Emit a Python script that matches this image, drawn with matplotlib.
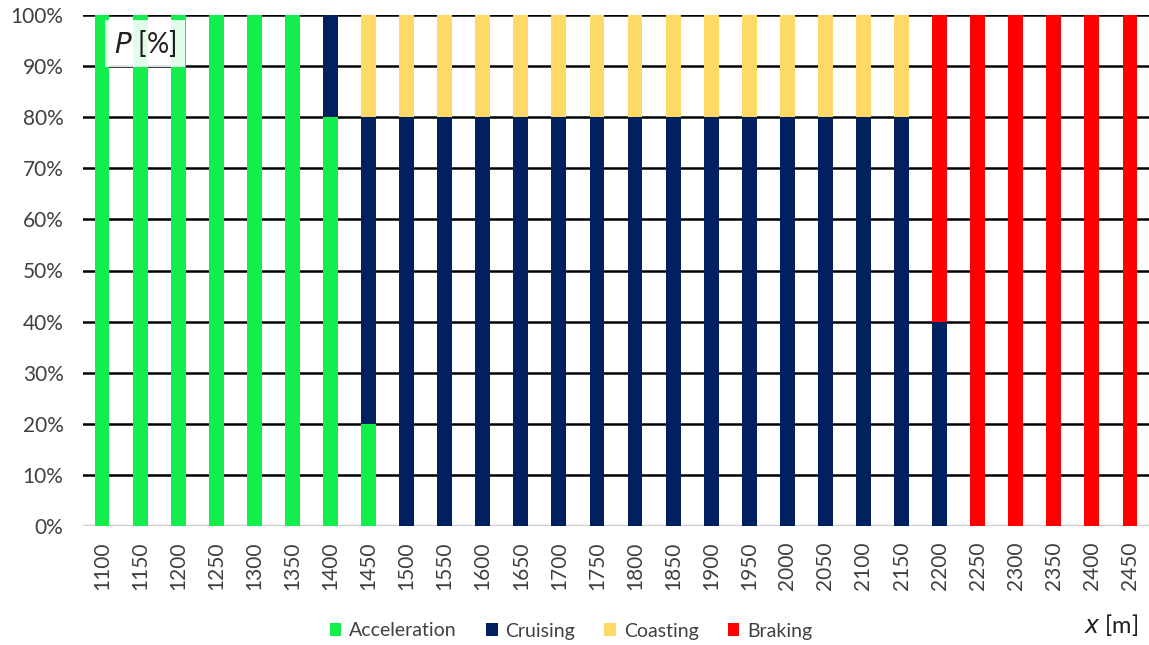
import numpy as np
import matplotlib.pyplot as plt

plt.rcParams["font.family"] = ["Lato", "DejaVu Sans"]

positions = [1100, 1150, 1200, 1250, 1300, 1350, 1400, 1450, 1500, 1550, 1600, 1650, 1700, 1750,
             1800, 1850, 1900, 1950, 2000, 2050, 2100, 2150, 2200, 2250, 2300, 2350, 2400, 2450]
acceleration = [100, 100, 100, 100, 100, 100, 80, 20, 0, 0, 0, 0, 0, 0,
                0, 0, 0, 0, 0, 0, 0, 0, 0, 0, 0, 0, 0, 0]
cruising = [0, 0, 0, 0, 0, 0, 20, 60, 80, 80, 80, 80, 80, 80,
            80, 80, 80, 80, 80, 80, 80, 80, 40, 0, 0, 0, 0, 0]
coasting = [0, 0, 0, 0, 0, 0, 0, 20, 20, 20, 20, 20, 20, 20,
            20, 20, 20, 20, 20, 20, 20, 20, 0, 0, 0, 0, 0, 0]
braking = [0, 0, 0, 0, 0, 0, 0, 0, 0, 0, 0, 0, 0, 0,
           0, 0, 0, 0, 0, 0, 0, 0, 60, 100, 100, 100, 100, 100]

series = [
    ("Acceleration", acceleration, "#12EE4C"),
    ("Cruising", cruising, "#002060"),
    ("Coasting", coasting, "#FFD966"),
    ("Braking", braking, "#FF0000"),
]

fig = plt.figure(figsize=(11.49, 6.45), dpi=100)
# axes spans x 83..1149 px, y 15..526 px
ax = fig.add_axes([83 / 1149, 1 - 526 / 645, (1149 - 83) / 1149, 511 / 645])

x = np.arange(len(positions))
bottom = np.zeros(len(positions))
for name, vals, color in series:
    vals = np.array(vals, dtype=float)
    ax.bar(x, vals, bottom=bottom, width=0.39, color=color, label=name, zorder=3)
    bottom += vals

ax.set_xlim(-0.5, len(positions) - 0.5)
ax.set_ylim(0, 100)
ax.set_yticks(np.arange(0, 101, 10))
ax.set_yticklabels([f"{v}%" for v in range(0, 101, 10)])
ax.set_xticks(x)
ax.set_xticklabels([str(p) for p in positions], rotation=90)
ax.tick_params(axis="both", length=0, labelsize=15, colors="#404040")
ax.tick_params(axis="y", pad=14)
ax.tick_params(axis="x", pad=11)
ax.yaxis.grid(True, color="black", linewidth=1.8, zorder=1)
ax.set_axisbelow(True)
for s in ax.spines.values():
    s.set_visible(False)
# light grey baseline at 0%
ax.axhline(0, color="#d0d0d0", linewidth=2.5, zorder=2)
ax.get_ygridlines()[0].set_visible(False)

ax.text(1.13, 94.4, r"$\it{P}$ [%]", fontsize=20, color="#202020", va="center", ha="center", zorder=5,
        bbox=dict(facecolor="white", edgecolor="none", alpha=0.88, boxstyle="square,pad=0.3"))

fig.legend(loc="center", bbox_to_anchor=(0.497, 1 - 631 / 645), ncol=4, frameon=False, fontsize=14,
           handlelength=0.6, handleheight=0.6, handletextpad=0.4, columnspacing=1.5,
           labelcolor="#404040")
fig.text(1138 / 1149, 1 - 625 / 645, r"$\it{x}$ [m]", fontsize=17, ha="right", va="center", color="#202020")

fig.savefig("out.png", dpi=100)
